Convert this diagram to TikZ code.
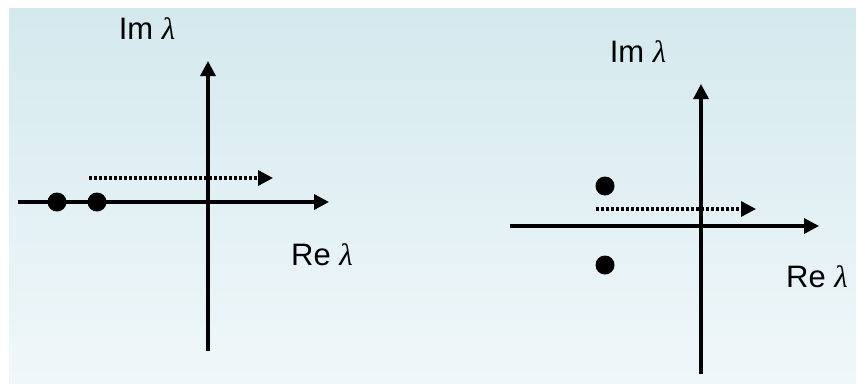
\documentclass[tikz,border=0pt]{standalone}
\usepackage{fontspec}
\setmainfont{Liberation Sans}
\newfontfamily\lamfont{Liberation Serif}
\usetikzlibrary{arrows.meta}

\definecolor{panetop}{RGB}{212,233,238}
\definecolor{panemid}{RGB}{253,254,254}
\definecolor{panebot}{RGB}{240,247,250}

\newcommand{\lam}{{\lamfont\itshape λ}}

\tikzset{
  axis/.style={line width=3.3pt, -{Triangle[length=15pt,width=15pt]}},
  path arrow/.style={line width=3.3pt, dash pattern=on 2.5pt off 2.5pt, -{Triangle[length=15pt,width=15pt]}},
  root/.style={circle, fill=black, inner sep=0pt, minimum size=19pt},
  axlabel/.style={font=\fontsize{31}{36}\selectfont, inner sep=0pt},
}

\begin{document}
\begin{tikzpicture}[x=1pt, y=-1pt]
  \useasboundingbox (0,0) rectangle (858,383);
  \shade[top color=panetop, middle color=panemid, bottom color=panebot] (9,8) rectangle (856,383);

  % Left plane
  \coordinate (l-west)  at (18,202);
  \coordinate (l-east)  at (329,202);
  \coordinate (l-south) at (208,351);
  \coordinate (l-north) at (208,61);
  \coordinate (l-from)  at (89,178);
  \coordinate (l-to)    at (273,178);
  \node[axlabel] (l-im) at (147,29)  {Im \lam};
  \node[axlabel] (l-re) at (322,255) {Re \lam};
  \node[root] (l-r1) at (57,202) {};
  \node[root] (l-r2) at (97,202) {};

  % Right plane
  \coordinate (r-west)  at (510,226);
  \coordinate (r-east)  at (819,226);
  \coordinate (r-south) at (701,374);
  \coordinate (r-north) at (701,84);
  \coordinate (r-from)  at (596,209);
  \coordinate (r-to)    at (756,209);
  \node[axlabel] (r-im) at (638,52)  {Im \lam};
  \node[axlabel] (r-re) at (817,277) {Re \lam};
  \node[root] (r-r1) at (605,186) {};
  \node[root] (r-r2) at (605,265) {};

  % Axes and arrows
  \draw[axis] (l-west) -- (l-east);
  \draw[axis] (l-south) -- (l-north);
  \draw[path arrow] (l-from) -- (l-to);
  \draw[axis] (r-west) -- (r-east);
  \draw[axis] (r-south) -- (r-north);
  \draw[path arrow] (r-from) -- (r-to);
\end{tikzpicture}
\end{document}
